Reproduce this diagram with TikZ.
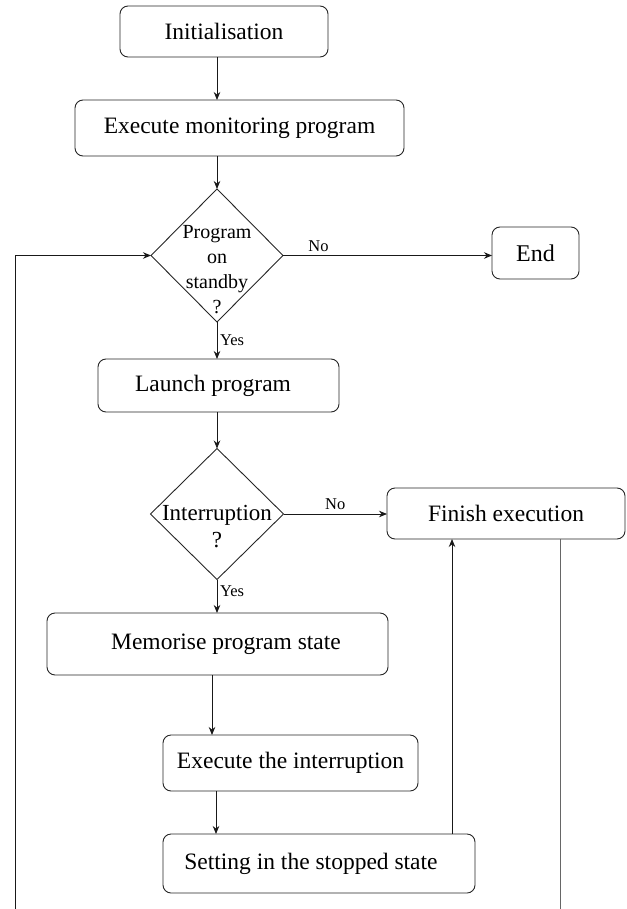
\documentclass[tikz,border=0pt]{standalone}
\usepackage{fontspec}
\setmainfont{Liberation Serif}
\usetikzlibrary{shapes.geometric,arrows.meta,calc}

\tikzset{
  x=1pt, y=1pt,
  every node/.style={inner sep=0pt, outer sep=0pt},
  stepbox/.style={draw=black!85, line width=0.9pt, rounded corners=8pt,
    font=\fontsize{23.5}{28}\selectfont},
  decision/.style={draw=black!85, line width=0.9pt, diamond, shape aspect=1},
  arr/.style={line width=0.9pt, draw=black!90, -{Stealth[length=8pt,width=6.5pt]}},
  greyline/.style={line width=1pt, draw=black!60},
  edgelabel/.style={font=\fontsize{16.5}{19}\selectfont},
}

\begin{document}
\begin{tikzpicture}
\useasboundingbox (0,0) rectangle (626,-909);

% process boxes
\node[stepbox, minimum width=208pt, minimum height=51pt] (init) at (224,-31.5) {Initialisation};
\node[stepbox, minimum width=329pt, minimum height=56pt] (exec) at (239.5,-128) {Execute monitoring program};
\node[stepbox, minimum width=87pt, minimum height=52pt, font=\fontsize{24}{28}\selectfont] (end) at (535.5,-253) {End};
\node[stepbox, minimum width=241pt, minimum height=53pt] (launch) at (218.5,-385.5) {\hspace*{-11pt}Launch program};
\node[stepbox, minimum width=238pt, minimum height=51pt] (finish) at (506,-513.5) {Finish execution};
\node[stepbox, minimum width=341pt, minimum height=62pt] (memo) at (217.5,-644) {Memorise program state\hspace*{-17pt}};
\node[stepbox, minimum width=255pt, minimum height=56pt] (execint) at (290.5,-763) {Execute the interruption};
\node[stepbox, minimum width=312pt, minimum height=59pt] (setting) at (319,-863.5) {\hspace*{-16pt}Setting in the stopped state};

% decisions
\node[decision, minimum width=132pt, minimum height=133pt,
  label={[name=d1text, align=center, yshift=-14pt,
          font=\fontsize{20}{25}\selectfont]center:Program\\on\\standby\\?}]
  (d1) at (217,-255.5) {};
\node[decision, minimum width=133pt, minimum height=131pt,
  label={[name=d2text, align=center, yshift=-13pt,
          font=\fontsize{23}{27}\selectfont]center:Interruption\\?}]
  (d2) at (217,-514) {};

% free ends of the return lines
\coordinate (loopbot) at (15,-909);
\coordinate (rightbot) at (560,-909);

% main flow
\draw[arr] (init.south -| d1.north) -- (exec.north -| d1.north);
\draw[arr] (exec.south -| d1.north) -- (d1.north);
\draw[arr] (d1.east) -- (d1.east -| end.west)
  node[edgelabel, pos=0.17, above=4pt] {No};
\draw[arr] (d1.south) -- (launch.north -| d1.south)
  node[edgelabel, midway, right=3pt] {Yes};
\draw[arr] (launch.south -| d2.north) -- (d2.north);
\draw[arr] (d2.east) -- (d2.east -| finish.west)
  node[edgelabel, midway, above=4pt] {No};
\draw[arr] (d2.south) -- (memo.north -| d2.south)
  node[edgelabel, pos=0.35, right=3pt] {Yes};
\draw[arr] ([xshift=-5.5pt]memo.south) -- ([xshift=-5.5pt]memo.south |- execint.north);
\draw[arr] ([xshift=-74.5pt]execint.south) -- ([xshift=-74.5pt]execint.south |- setting.north);

% return paths
\draw[arr] ([xshift=133pt]setting.north) -- ([xshift=133pt]setting.north |- finish.south);
\draw[arr] (loopbot) |- (d1.west);
\draw[greyline] ([xshift=54pt]finish.south) -- (rightbot);
\end{tikzpicture}
\end{document}
